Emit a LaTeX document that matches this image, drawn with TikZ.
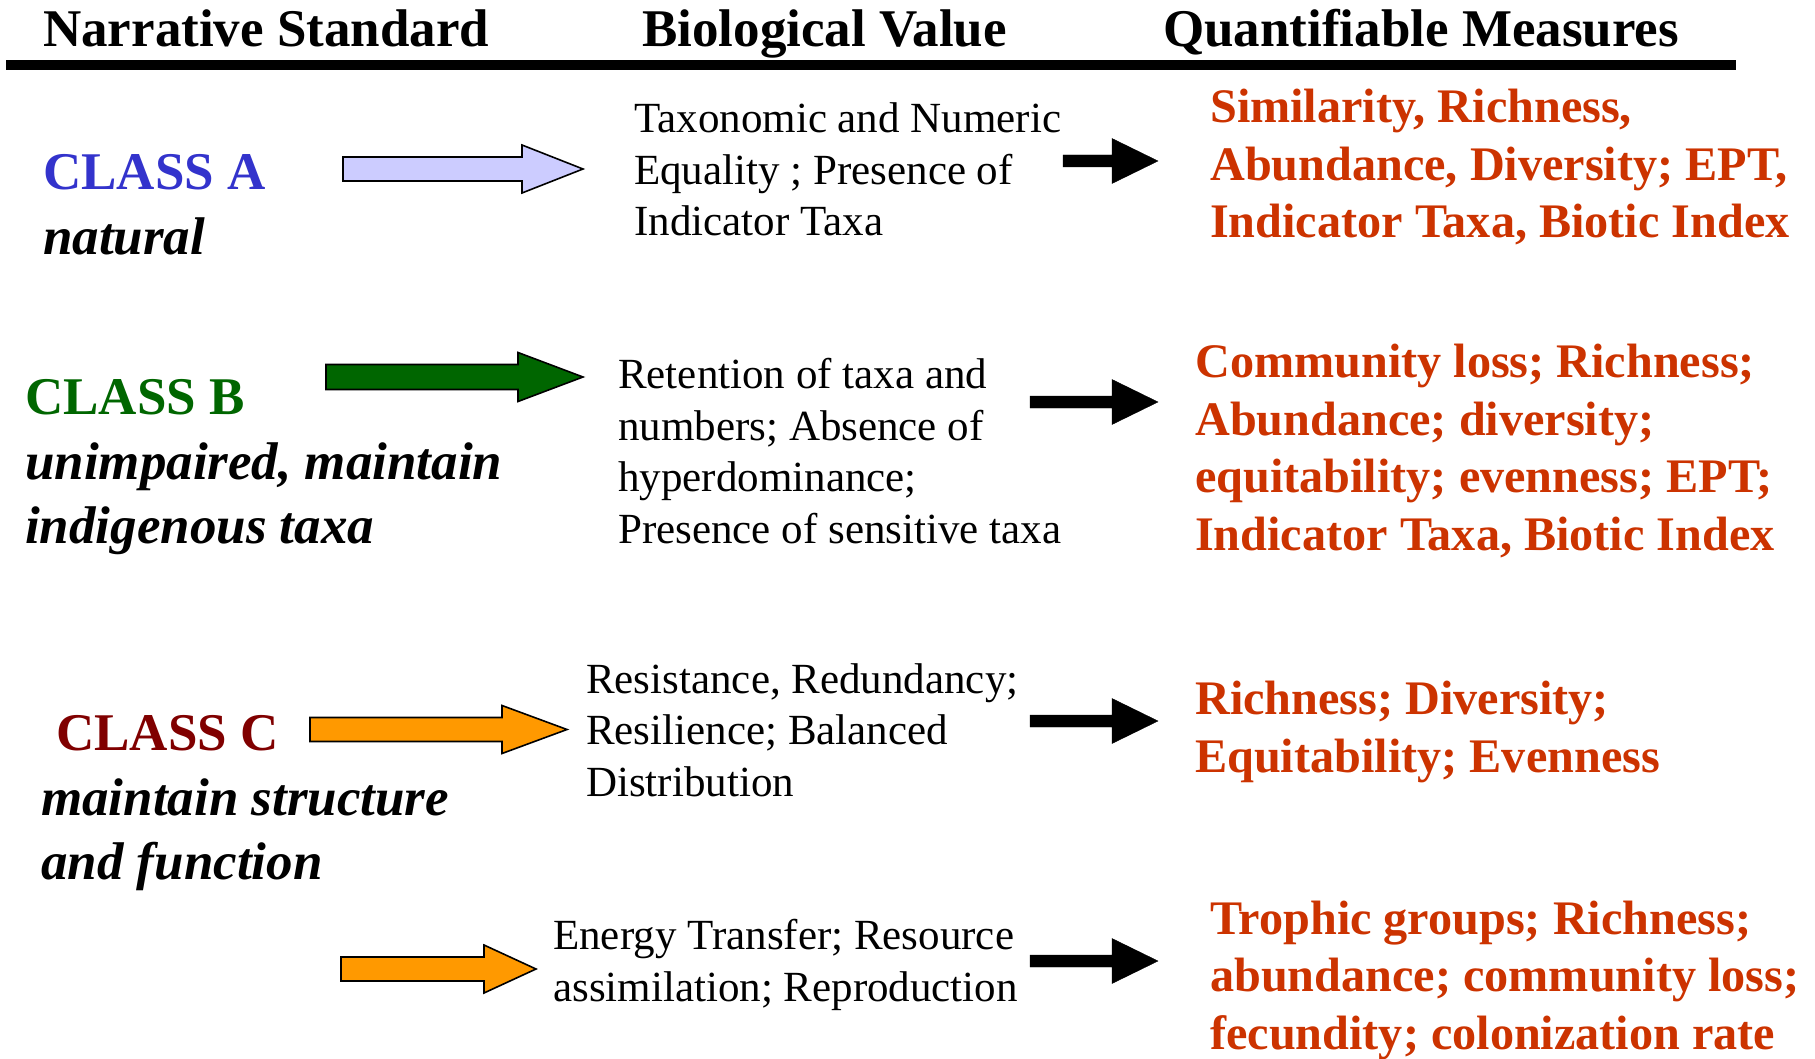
\documentclass[tikz,border=0pt]{standalone}
\usepackage{fontspec}
\setmainfont{Liberation Serif}
\definecolor{clsA}{HTML}{3333CC}
\definecolor{clsB}{HTML}{006600}
\definecolor{clsC}{HTML}{800000}
\definecolor{measred}{HTML}{CC3300}
\definecolor{lavender}{HTML}{CCCCFF}
\definecolor{amber}{HTML}{FF9900}
% block arrow: [style](tail x, mid y)(tip x : shaft half : head half : head length)
\def\blockarrow[#1](#2,#3)(#4:#5:#6:#7){\draw[#1] (#2,#3-#5) -- (#4-#7,#3-#5) -- (#4-#7,#3-#6) -- (#4,#3) -- (#4-#7,#3+#6) -- (#4-#7,#3+#5) -- (#2,#3+#5) -- cycle;}
% multi-line nodes sit on the baseline of their last line
\tikzset{
  hdr/.style={anchor=base west, inner sep=0pt, font=\fontsize{53}{60}\selectfont\bfseries},
  cls/.style={anchor=base west, inner sep=0pt, font=\fontsize{53}{64}\selectfont\bfseries},
  desc/.style={anchor=base west, inner sep=0pt, align=left, font=\fontsize{53}{64}\selectfont\bfseries\itshape},
  bio/.style={anchor=base west, inner sep=0pt, align=left, font=\fontsize{43}{51.5}\selectfont},
  meas/.style={anchor=base west, inner sep=0pt, align=left, text=measred, font=\fontsize{48.2}{57.5}\selectfont\bfseries},
  fat/.style={draw=black, line width=1.6pt, line join=miter},
}

\begin{document}
\begin{tikzpicture}[x=1pt,y=-1pt]
	\useasboundingbox (0,0) rectangle (1815,1059);
	
	%%% column heads
	\node[hdr] (narr) at (43,47) {Narrative Standard};
	\node[hdr] (biov) at (642,47) {Biological Value};
	\node[hdr] (quant) at (1163,47) {Quantifiable Measures};
	\fill[black] (6,60) rectangle (1736,70);
	
	%%% class A
	\node[cls, text=clsA] (clsA) at (43,190) {CLASS A};
	\node[desc] (descA) at (43,255) {natural};
	\blockarrow[fat, fill=lavender](343,169)(583:12:24:61);
	\node[bio] (bioA) at (634,236) {Taxonomic and Numeric\\Equality ; Presence of\\Indicator Taxa};
	\blockarrow[fill=black](1063,161)(1158:6:22.5:46);
	\node[meas] (measA) at (1210,238) {Similarity, Richness,\\Abundance, Diversity; EPT,\\Indicator Taxa, Biotic Index};
	
	%%% class B
	\node[cls, text=clsB] (clsB) at (25,414) {CLASS B};
	\node[desc] (descB) at (25,543) {unimpaired, maintain\\indigenous taxa};
	\blockarrow[fat, fill=clsB](326,377)(583:12.5:24.5:65);
	\node[bio] (bioB) at (618,543) {Retention of taxa and\\numbers; Absence of\\hyperdominance;\\Presence of sensitive taxa};
	\blockarrow[fill=black](1030,402)(1158:6:22.5:46);
	\node[meas] (measB) at (1195,550) {Community loss; Richness;\\Abundance; diversity;\\equitability; evenness; EPT;\\Indicator Taxa, Biotic Index};
	
	%%% class C
	\node[cls, text=clsC] (clsC) at (56,750) {CLASS C};
	\node[desc] (descC) at (41,879) {maintain structure\\and function};
	\blockarrow[fat, fill=amber](310,729.5)(567:12:24:65);
	\node[bio] (bioC) at (586,796) {Resistance, Redundancy;\\Resilience; Balanced\\Distribution};
	\blockarrow[fill=black](1030,721)(1158:6:22.5:46);
	\node[meas] (measC) at (1195,772) {Richness; Diversity;\\Equitability; Evenness};
	
	%%% function row
	\blockarrow[fat, fill=amber](341,969)(536:12:24:52);
	\node[bio] (bioD) at (553,1001) {Energy Transfer; Resource\\assimilation; Reproduction};
	\blockarrow[fill=black](1030,961)(1158:6:22.5:46);
	\node[meas] (measD) at (1210,1049) {Trophic groups; Richness;\\abundance; community loss;\\fecundity; colonization rate};
\end{tikzpicture}
\end{document}
